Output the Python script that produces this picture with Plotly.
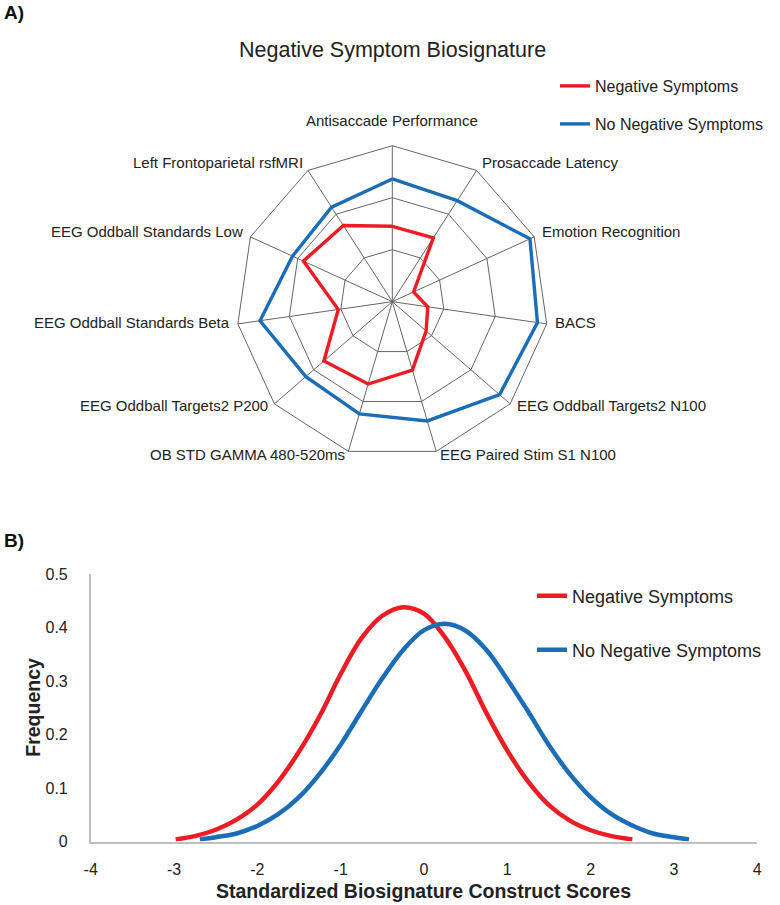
import math
import plotly.graph_objects as go

# ---------------- data ----------------
radar_categories = [
    "Antisaccade Performance", "Prosaccade Latency", "Emotion Recognition", "BACS",
    "EEG Oddball Targets2 N100", "EEG Paired Stim S1 N100", "OB STD GAMMA 480-520ms",
    "EEG Oddball Targets2 P200", "EEG Oddball Standards Beta", "EEG Oddball Standards Low",
    "Left Frontoparietal rsfMRI",
]
radar_negative = [1.45, 1.46, 0.45, 0.69, 0.86, 1.37, 1.65, 1.74, 1.05, 1.88, 1.74]
radar_no_negative = [2.36, 2.31, 2.91, 2.82, 2.73, 2.39, 2.25, 2.20, 2.57, 2.11, 2.16]

series_names = ["Negative Symptoms", "No Negative Symptoms"]

dens_neg_x = [-2.98, -2.75, -2.5, -2.25, -2.0, -1.75, -1.5, -1.25, -1.0, -0.75, -0.5, -0.25,
              0.0, 0.25, 0.5, 0.75, 1.0, 1.25, 1.5, 1.75, 2.0, 2.25, 2.5]
dens_neg_y = [0.004, 0.010, 0.022, 0.041, 0.069, 0.112, 0.168, 0.235, 0.313, 0.380, 0.422, 0.438,
              0.426, 0.382, 0.318, 0.240, 0.170, 0.112, 0.068, 0.039, 0.021, 0.010, 0.004]
dens_no_x = [-2.69, -2.5, -2.25, -2.0, -1.75, -1.5, -1.25, -1.0, -0.75, -0.5, -0.25, 0.0,
             0.25, 0.5, 0.75, 1.0, 1.25, 1.5, 1.75, 2.0, 2.25, 2.5, 2.75, 3.0, 3.18]
dens_no_y = [0.004, 0.008, 0.015, 0.029, 0.051, 0.083, 0.127, 0.181, 0.244, 0.305, 0.358, 0.395,
             0.407, 0.394, 0.358, 0.303, 0.243, 0.180, 0.126, 0.083, 0.051, 0.030, 0.015, 0.008, 0.004]

x_tick_vals = [-4, -3, -2, -1, 0, 1, 2, 3, 4]
x_tick_text = ["-4", "-3", "-2", "-1", "0", "1", "2", "3", "4"]
y_tick_vals = [0, 0.1, 0.2, 0.3, 0.4, 0.5]
y_tick_text = ["0", "0.1", "0.2", "0.3", "0.4", "0.5"]

# ---------------- style ----------------
RED = "#EC1C24"
BLUE = "#1B6DB8"
GRID = "#666666"
TXT = "#222222"
FONT = "Liberation Sans, Arial, sans-serif"

W, H = 780, 905
cx, cy, R = 392.3, 301.7, 156.0
bx0, bx1, by0, by1 = 90.7, 757.3, 841.5, 574.0   # panel B plot box (px)


def px(x):
    return x / W


def py(y):
    return 1 - y / H


def closed(v):
    return list(v) + [v[0]]


fig = go.Figure()

fig.add_trace(go.Scatterpolar(
    r=closed(radar_negative), theta=closed(radar_categories), mode="lines",
    line=dict(color=RED, width=3.4), name=series_names[0], legend="legend",
    subplot="polar", hoverinfo="skip"))
fig.add_trace(go.Scatterpolar(
    r=closed(radar_no_negative), theta=closed(radar_categories), mode="lines",
    line=dict(color=BLUE, width=3.4), name=series_names[1], legend="legend2",
    subplot="polar", hoverinfo="skip"))

fig.add_trace(go.Scatter(
    x=dens_neg_x, y=dens_neg_y, mode="lines", line=dict(color=RED, width=4.5, shape="spline"),
    name=series_names[0], legend="legend3", xaxis="x", yaxis="y"))
fig.add_trace(go.Scatter(
    x=dens_no_x, y=dens_no_y, mode="lines", line=dict(color=BLUE, width=4.5, shape="spline"),
    name=series_names[1], legend="legend4", xaxis="x", yaxis="y"))

# radar category labels placed just outside the outer polygon (Excel-like)
annotations = []
n = len(radar_categories)
for k, label in enumerate(radar_categories):
    ang = math.radians(90 - k * 360.0 / n)
    c, s = math.cos(ang), math.sin(ang)
    if abs(c) < 0.1:
        xa, ya = "center", ("bottom" if s > 0 else "top")
        lx, ly = cx, cy - (R + 15) * s
    else:
        xa, ya = ("left" if c > 0 else "right"), "middle"
        lx, ly = cx + (R + 6) * c, cy - (R + 6) * s - 2.5
    annotations.append(dict(text=label, x=px(lx), y=py(ly), xref="paper", yref="paper",
                            xanchor=xa, yanchor=ya, showarrow=False,
                            font=dict(size=15, color=TXT, family=FONT)))

annotations += [
    dict(text="<b>A)</b>", x=px(2), y=py(12), xref="paper", yref="paper",
         xanchor="left", yanchor="middle", showarrow=False, font=dict(size=19, color="#111")),
    dict(text="<b>B)</b>", x=px(2), y=py(540), xref="paper", yref="paper",
         xanchor="left", yanchor="middle", showarrow=False, font=dict(size=19, color="#111")),
    dict(text="Negative Symptom Biosignature", x=px(392.5), y=py(50), xref="paper",
         yref="paper", xanchor="center", yanchor="middle", showarrow=False,
         font=dict(size=21.5, color=TXT)),
    # axis titles of panel B
    dict(text="<b>Standardized Biosignature Construct Scores</b>", x=px((bx0 + bx1) / 2),
         y=py(890.5), xref="paper", yref="paper", xanchor="center", yanchor="middle",
         showarrow=False, font=dict(size=19.5, color=TXT)),
    dict(text="<b>Frequency</b>", x=px(33), y=py((by0 + by1) / 2), xref="paper", yref="paper",
         xanchor="center", yanchor="middle", textangle=-90, showarrow=False,
         font=dict(size=19.5, color=TXT)),
]

leg_common = dict(bgcolor="rgba(0,0,0,0)", borderwidth=0, xanchor="left", yanchor="middle",
                  itemwidth=30, visible=True)

fig.update_layout(
    width=W, height=H, margin=dict(l=0, r=0, t=0, b=0, autoexpand=False),
    paper_bgcolor="white", plot_bgcolor="white", showlegend=True,
    font=dict(family=FONT, color=TXT),
    polar=dict(
        domain=dict(x=[px(cx - R), px(cx + R)], y=[py(cy + R), py(cy - R)]),
        bgcolor="white", gridshape="linear",
        radialaxis=dict(range=[0, 3], dtick=1, showticklabels=False, ticks="",
                        showline=False, gridcolor=GRID, gridwidth=1),
        angularaxis=dict(rotation=90, direction="clockwise", showline=True,
                         linecolor=GRID, linewidth=1, gridcolor=GRID, gridwidth=1,
                         ticks="", showticklabels=False),
    ),
    xaxis=dict(domain=[px(bx0), px(bx1)], range=[-4, 4], tickvals=x_tick_vals,
               ticktext=x_tick_text, showgrid=False, zeroline=False, showline=True,
               linecolor="#BFBFBF", linewidth=1.5, ticks="", ticklabelstandoff=13,
               tickfont=dict(size=16, color=TXT), automargin=False,
               anchor="y", fixedrange=True),
    yaxis=dict(domain=[py(by0), py(by1)], range=[0, 0.5], tickvals=y_tick_vals,
               ticktext=y_tick_text, showgrid=False, zeroline=False, showline=True,
               linecolor="#BFBFBF", linewidth=1.5, ticks="", ticklabelstandoff=18,
               tickfont=dict(size=16, color=TXT), automargin=False,
               anchor="x", fixedrange=True),
    legend=dict(x=px(555), y=py(86), font=dict(size=16, color=TXT), **leg_common),
    legend2=dict(x=px(555), y=py(124), font=dict(size=16, color=TXT), **leg_common),
    legend3=dict(x=px(532), y=py(596), font=dict(size=18, color=TXT), **leg_common),
    legend4=dict(x=px(532), y=py(650), font=dict(size=18, color=TXT), **leg_common),
    annotations=annotations,
    hovermode=False,
)

fig.write_html("out.html", config={"displayModeBar": False},
               post_script="document.body.style.margin='0px';")
